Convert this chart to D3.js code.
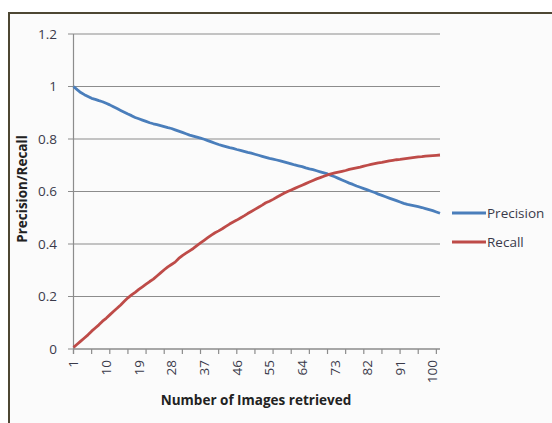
<!DOCTYPE html>
<html><head><meta charset="utf-8">
<script src="https://cdn.jsdelivr.net/npm/d3@7"></script>
<style>html,body{margin:0;padding:0;background:#fff;}svg{display:block;}</style>
</head><body>
<script>
const precision = [1.000,0.988,0.977,0.969,0.962,0.955,0.951,0.946,0.942,0.936,
0.930,0.923,0.916,0.909,0.902,0.895,0.889,0.882,0.877,0.872,
0.867,0.862,0.858,0.855,0.851,0.847,0.843,0.840,0.835,0.830,
0.825,0.820,0.815,0.811,0.807,0.803,0.799,0.794,0.789,0.784,
0.779,0.775,0.771,0.767,0.764,0.760,0.757,0.753,0.749,0.746,
0.742,0.738,0.734,0.730,0.726,0.723,0.720,0.717,0.713,0.709,
0.705,0.701,0.698,0.695,0.690,0.686,0.683,0.679,0.675,0.671,
0.667,0.661,0.656,0.650,0.644,0.638,0.632,0.627,0.621,0.616,
0.611,0.606,0.601,0.596,0.590,0.585,0.580,0.575,0.570,0.565,
0.560,0.555,0.551,0.548,0.545,0.542,0.539,0.535,0.531,0.527,
0.522,0.517];
const recall = [0.006,0.018,0.030,0.042,0.054,0.068,0.080,0.092,0.106,0.117,
0.130,0.143,0.155,0.168,0.182,0.195,0.206,0.216,0.227,0.237,
0.247,0.257,0.266,0.278,0.290,0.302,0.313,0.322,0.331,0.345,
0.356,0.365,0.374,0.383,0.394,0.404,0.414,0.424,0.434,0.443,
0.450,0.458,0.467,0.476,0.484,0.491,0.499,0.507,0.516,0.524,
0.532,0.540,0.548,0.557,0.563,0.570,0.578,0.586,0.593,0.600,
0.606,0.612,0.618,0.624,0.630,0.636,0.642,0.648,0.653,0.658,
0.663,0.667,0.671,0.674,0.677,0.680,0.684,0.687,0.690,0.693,
0.697,0.700,0.703,0.706,0.709,0.711,0.714,0.717,0.719,0.721,
0.722,0.724,0.726,0.728,0.730,0.732,0.733,0.735,0.736,0.737,
0.738,0.739];
const categories = precision.map((d,i)=>i+1);
const xTickLabels = [1,10,19,28,37,46,55,64,73,82,91,100];
const yTicks = [0,0.2,0.4,0.6,0.8,1,1.2];
const seriesNames = ["Precision","Recall"];
const seriesColors = ["#4a7ebb","#be4b48"];

const W=552,H=423;
const svg=d3.select("body").append("svg").attr("width",W).attr("height",H);
svg.append("rect").attr("x",0).attr("y",0).attr("width",W).attr("height",H).attr("fill","#fff");
svg.append("rect").attr("x",9).attr("y",13).attr("width",W+20).attr("height",H+20)
  .attr("fill","#fbfbfb").attr("stroke","#4d4733").attr("stroke-width",2);

const font="'Open Sans', 'DejaVu Sans', sans-serif";
const x=d3.scaleLinear().domain([1,102]).range([73.5,440]);
const y=d3.scaleLinear().domain([0,1.2]).range([349,34]);

svg.append("g").selectAll("line").data(yTicks).join("line")
  .attr("x1",68).attr("x2",440).attr("y1",d=>y(d)).attr("y2",d=>y(d))
  .attr("stroke","#8c8c8c").attr("stroke-width",1.2);
svg.append("line").attr("x1",73.5).attr("x2",73.5).attr("y1",y(1.2)).attr("y2",y(0)+5)
  .attr("stroke","#8c8c8c").attr("stroke-width",1.2);
svg.append("line").attr("x1",73.5).attr("x2",440).attr("y1",y(0)).attr("y2",y(0))
  .attr("stroke","#8c8c8c").attr("stroke-width",1.2);
const tickCats = categories.filter(c=>(c-1)%5===0);
svg.append("g").selectAll("line").data(tickCats).join("line")
  .attr("x1",d=>x(d)).attr("x2",d=>x(d)).attr("y1",y(0)).attr("y2",y(0)+5)
  .attr("stroke","#8c8c8c").attr("stroke-width",1.2);

svg.append("g").selectAll("text").data(yTicks).join("text")
  .attr("x",57).attr("y",d=>y(d)).attr("dy","0.35em").attr("text-anchor","end")
  .attr("font-family",font).attr("font-size",13.5).attr("fill","#3a3a4a")
  .text(d=>d3.format("~g")(d));
svg.append("g").selectAll("text").data(xTickLabels).join("text")
  .attr("transform",d=>`translate(${x(d)},360) rotate(-90)`)
  .attr("dy","0.35em").attr("text-anchor","end")
  .attr("font-family",font).attr("font-size",13.5).attr("fill","#3a3a4a")
  .text(d=>d);

svg.append("text").attr("x",256).attr("y",405).attr("text-anchor","middle")
  .attr("font-family",font).attr("font-size",13.5).attr("font-weight","bold").attr("fill","#222")
  .text("Number of Images retrieved");
svg.append("text").attr("transform","translate(27,189) rotate(-90)").attr("text-anchor","middle")
  .attr("font-family",font).attr("font-size",13.5).attr("font-weight","bold").attr("fill","#222")
  .text("Precision/Recall");

const line=d3.line().x((d,i)=>x(categories[i])).y(d=>y(d));
[precision,recall].forEach((s,k)=>{
  svg.append("path").datum(s).attr("d",line).attr("fill","none")
    .attr("stroke",seriesColors[k]).attr("stroke-width",2.8).attr("stroke-linejoin","round");
});

const legY=[213,242];
seriesNames.forEach((n,k)=>{
  svg.append("line").attr("x1",452).attr("x2",486).attr("y1",legY[k]).attr("y2",legY[k])
    .attr("stroke",seriesColors[k]).attr("stroke-width",2.8);
  svg.append("text").attr("x",487).attr("y",legY[k]).attr("dy","0.35em")
    .attr("font-family",font).attr("font-size",13.5).attr("fill","#3a3a4a").text(n);
});
</script>
</body></html>
